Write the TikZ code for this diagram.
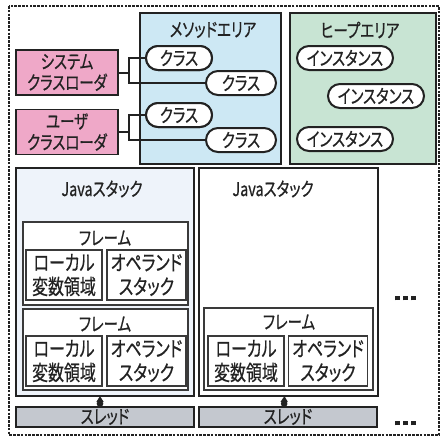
\documentclass[tikz,border=0pt]{standalone}
\usepackage{fontspec}
\setmainfont{Noto Sans CJK JP}[RawFeature={+palt}, FakeBold=0.6, FakeStretch=0.76]
\usetikzlibrary{arrows.meta}
\definecolor{pinkfill}{HTML}{EFA8C8}
\definecolor{methodfill}{HTML}{CDE8F4}
\definecolor{heapfill}{HTML}{C8E4D3}
\definecolor{stackfill}{HTML}{EEF3FA}
\definecolor{threadfill}{HTML}{C4C8CF}
\definecolor{ink}{HTML}{222222}
\definecolor{frameink}{HTML}{3A3A3A}
\begin{document}
\begin{tikzpicture}[x=1pt,y=-1pt,
  every node/.style={inner sep=0pt, outer sep=0pt, text=ink},
  txt/.style={font=\fontsize{19}{21}\selectfont, align=center},
  area/.style={draw=ink, line width=1.8pt, anchor=north west},
  loader/.style={draw=ink, line width=1.8pt, fill=pinkfill, minimum width=102pt, minimum height=45pt, txt},
  pill/.style={draw=ink, line width=2pt, fill=white, rounded corners=12pt, minimum height=24pt, txt},
  stackbox/.style={draw=ink, line width=1.6pt, anchor=north west},
  framebox/.style={draw=frameink, line width=1.3pt, fill=white, anchor=north west},
  innerbox/.style={draw=frameink, line width=1.3pt, fill=white, minimum width=76pt, minimum height=50pt, font=\fontsize{21}{24}\selectfont, align=center},
  threadbox/.style={draw=ink, line width=1.4pt, fill=threadfill, minimum height=20pt, txt},
  conn/.style={draw=ink, line width=2pt},
  arr/.style={draw=ink, line width=1.5pt, {Circle[length=6.5pt]}-{Triangle[length=6pt,width=7pt]}}
]
\useasboundingbox (0,0) rectangle (442,445);
% outer dotted frame
\draw[ink, line width=2.6pt, dash pattern=on 2.6pt off 1.2pt] (9,6) rectangle (439,435);

% areas
\node[area, fill=methodfill, minimum width=141pt, minimum height=151pt] (method) at (140,13) {};
\node[area, fill=heapfill, minimum width=146pt, minimum height=151pt] (heap) at (290,13) {};
\node[txt] (methodlbl) at (213,30) {メソッドエリア};
\node[txt] (heaplbl) at (360,30) {ヒープエリア};

% class loaders
\node[loader] (sys) at (67,72.5) {システム\\クラスローダ};
\node[loader] (usr) at (67,132) {ユーザ\\クラスローダ};

% classes
\node[pill, minimum width=66pt] (c1) at (179,58) {クラス};
\node[pill, minimum width=70pt] (c2) at (241,83) {クラス};
\node[pill, minimum width=66pt] (c3) at (179,115) {クラス};
\node[pill, minimum width=70pt] (c4) at (241,140) {クラス};

% instances
\node[pill, minimum width=96pt] (i1) at (345,58) {インスタンス};
\node[pill, minimum width=96pt] (i2) at (376,96) {インスタンス};
\node[pill, minimum width=96pt] (i3) at (345,139) {インスタンス};

% loader connectors
\coordinate (b1) at ([xshift=11pt]sys.east);
\coordinate (b2) at ([xshift=11pt]usr.east);
\draw[conn] (sys.east) -- (b1);
\draw[conn] (c1.west) -| (b1) |- (c2.west);
\draw[conn] (usr.east) -- (b2);
\draw[conn] (c3.west) -| (b2) |- (c4.west);
\node[pill, minimum width=66pt] at (c1) {クラス};
\node[pill, minimum width=66pt] at (c3) {クラス};

% java stacks
\node[stackbox, fill=stackfill, minimum width=178pt, minimum height=228pt] (s1) at (16,168) {};
\node[stackbox, fill=white, minimum width=179pt, minimum height=228pt] (s2) at (199,168) {};
\node[txt] (s1lbl) at (102,189) {Javaスタック};
\node[txt] (s2lbl) at (273,189) {Javaスタック};

% frames in stack 1
\node[framebox, minimum width=165pt, minimum height=83pt] (f1) at (23,222) {};
\node[txt] (f1lbl) at (105,238) {フレーム};
\node[innerbox] (l1) at (64,275) {ローカル\\変数領域};
\node[innerbox, minimum width=79pt] (o1) at (146.5,275) {オペランド\\スタック};

\node[framebox, minimum width=165pt, minimum height=81pt] (f2) at (23,309) {};
\node[txt] (f2lbl) at (105,324) {フレーム};
\node[innerbox] (l2) at (64,361) {ローカル\\変数領域};
\node[innerbox, minimum width=79pt] (o2) at (146.5,361) {オペランド\\スタック};

% frame in stack 2
\node[framebox, minimum width=169pt, minimum height=82pt] (f3) at (204,308) {};
\node[txt] (f3lbl) at (289,322) {フレーム};
\node[innerbox] (l3) at (246,361) {ローカル\\変数領域};
\node[innerbox, minimum width=79pt] (o3) at (328,361) {オペランド\\スタック};

% threads
\node[threadbox, minimum width=178pt] (t1) at (105,417) {スレッド};
\node[threadbox, minimum width=178pt] (t2) at (288,417) {スレッド};
\draw[arr] ([xshift=-5pt]t1.north) -- ([xshift=-5pt]s1.south);
\draw[arr] ([xshift=-4pt]t2.north) -- ([xshift=-4pt]s2.south);

% ellipsis marks
\node (d1) at (405.5,298) {\color{ink}\rule{4.5pt}{4.5pt}\hspace{3.5pt}\rule{4.5pt}{4.5pt}\hspace{3.5pt}\rule{4.5pt}{4.5pt}};
\node (d2) at (405.5,423) {\color{ink}\rule{4.5pt}{4.5pt}\hspace{3.5pt}\rule{4.5pt}{4.5pt}\hspace{3.5pt}\rule{4.5pt}{4.5pt}};
\end{tikzpicture}
\end{document}
